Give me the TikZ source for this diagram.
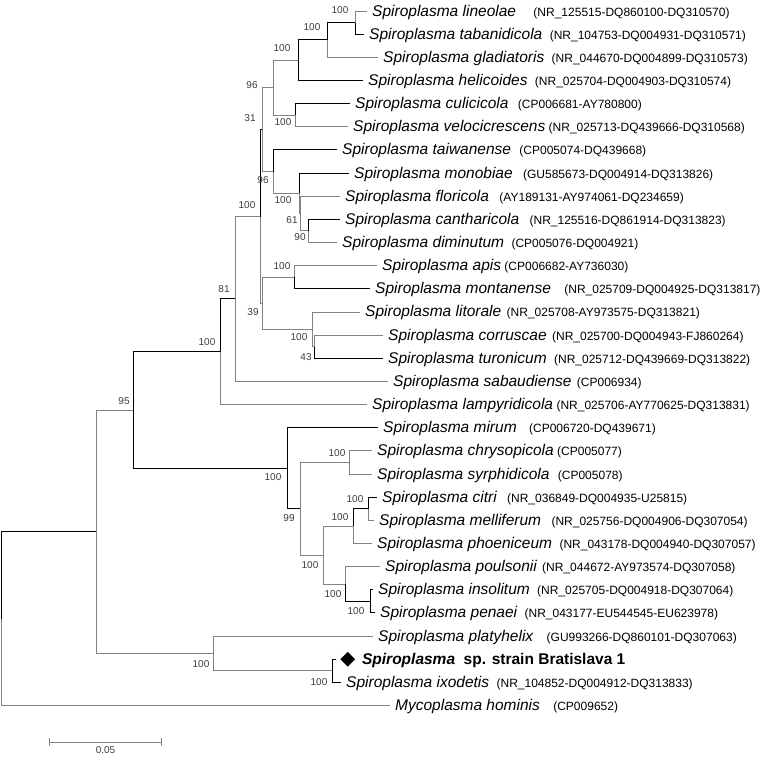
\documentclass[tikz,border=0pt]{standalone}
\usepackage{fontspec}
\setmainfont{Liberation Sans}
\usetikzlibrary{positioning,arrows.meta,shapes.geometric}
\definecolor{branchgray}{RGB}{130,130,130}
\definecolor{bootgray}{RGB}{60,60,60}
\newcommand{\spfont}{\fontsize{15.5}{18}\selectfont\itshape}
\newcommand{\accfont}{\fontsize{12}{14}\selectfont}
\newcommand{\bsfont}{\fontsize{10}{12}\selectfont}

\begin{document}
\begin{tikzpicture}[x=1pt,y=-1pt,
  br/.style={draw=branchgray,line width=0.9pt},
  brk/.style={draw=black,line width=0.9pt},
  sp/.style={font=\spfont,anchor=west,inner sep=0pt,text height=10pt,text depth=0pt},
  strain/.style={sp,font=\fontsize{15.5}{18}\selectfont\bfseries},
  acc/.style={font=\accfont,inner sep=0pt,anchor=base west},
  bs/.style={font=\bsfont,text=bootgray,inner sep=0pt},
  isolate/.style={diamond,fill=black,inner sep=0pt,minimum size=15pt}
]
\useasboundingbox (0,0) rectangle (762,756);

% internal nodes of the tree
\coordinate (root) at (1.2,618.6);
\coordinate (n96b) at (96,531.7);
\coordinate (n95) at (133,410);
\coordinate (nU) at (220,351.7);
\coordinate (n81) at (235,298.9);
\coordinate (ntop) at (260,216.5);
\coordinate (n31) at (262,129.6);
\coordinate (n96a) at (273,87.7);
\coordinate (nN3) at (298,60.2);
\coordinate (nN2) at (327,39.9);
\coordinate (nN1) at (355,22.6);
\coordinate (nN4) at (295,115.2);
\coordinate (nT) at (273,171.6);
\coordinate (nM) at (299,193.3);
\coordinate (nF) at (300,213.6);
\coordinate (nC) at (308,230.9);
\coordinate (n39) at (262,303.3);
\coordinate (nAM) at (294,277.2);
\coordinate (nA) at (312,329.3);
\coordinate (nB) at (314,346.7);
\coordinate (nS) at (287,468.2);
\coordinate (n99) at (300,508.7);
\coordinate (nCS) at (349,462.4);
\coordinate (nQ) at (323,555);
\coordinate (nR) at (353,526.1);
\coordinate (nCM) at (368,508.7);
\coordinate (nPIP) at (345,584);
\coordinate (nIP) at (370,601.3);
\coordinate (nL) at (213,653.4);
\coordinate (nBI) at (332,670.8);

% leaf ends
\coordinate (l1) at (367,11);
\coordinate (l2) at (364,34.15);
\coordinate (l3) at (378,57.3);
\coordinate (l4) at (363,80.45);
\coordinate (l5) at (350,103.6);
\coordinate (l6) at (348,126.75);
\coordinate (l7) at (337,149.9);
\coordinate (l8) at (349,173.05);
\coordinate (l9) at (340,196.2);
\coordinate (l10) at (340,219.35);
\coordinate (l11) at (337,242.5);
\coordinate (l12) at (377,265.65);
\coordinate (l13) at (370,288.8);
\coordinate (l14) at (360,311.95);
\coordinate (l15) at (383,335.1);
\coordinate (l16) at (383,358.25);
\coordinate (l17) at (388,381.4);
\coordinate (l18) at (367,404.55);
\coordinate (l19) at (378,427.7);
\coordinate (l20) at (372,450.85);
\coordinate (l21) at (372,474);
\coordinate (l22) at (377,497.15);
\coordinate (l23) at (374,520.3);
\coordinate (l24) at (372,543.45);
\coordinate (l25) at (380,566.6);
\coordinate (l26) at (373,589.75);
\coordinate (l27) at (375,612.9);
\coordinate (l28) at (373,636.05);
\coordinate (l29) at (336,659.2);
\coordinate (l30) at (341,682.35);
\coordinate (l31) at (390,705.5);

% branches
\draw[br] (nN1) |- (l1);  \draw[brk] (nN1) |- (l2);
\draw[brk] (nN2) |- (nN1); \draw[br] (nN2) |- (l3);
\draw[brk] (nN3) |- (nN2); \draw[brk] (nN3) |- (l4);
\draw[brk] (nN4) |- (l5); \draw[br] (nN4) |- (l6);
\draw[br] (n96a) |- (nN3); \draw[br] (n96a) |- (nN4);
\draw[brk] (nC) |- (l10); \draw[br] (nC) |- (l11);
\draw[br] (nF) |- (l9); \draw[br] (nF) |- (nC);
\draw[brk] (nM) |- (l8); \draw[br] (nM) |- (nF);
\draw[brk] (nT) |- (l7); \draw[br] (nT) |- (nM);
\draw[br] (n31) |- (n96a); \draw[br] (n31) |- (nT);
\draw[br] (nAM) |- (l12); \draw[brk] (nAM) |- (l13);
\draw[br] (nB) |- (l15); \draw[brk] (nB) |- (l16);
\draw[br] (nA) |- (l14); \draw[br] (nA) |- (nB);
\draw[br] (n39) |- (nAM); \draw[br] (n39) |- (nA);
\draw[brk] (ntop) |- (n31); \draw[br] (ntop) |- (n39);
\draw[br] (n81) |- (ntop); \draw[br] (n81) |- (l17);
\draw[brk] (nU) |- (n81); \draw[br] (nU) |- (l18);
\draw[br] (nCS) |- (l20); \draw[br] (nCS) |- (l21);
\draw[brk] (nCM) |- (l22); \draw[br] (nCM) |- (l23);
\draw[brk] (nR) |- (nCM); \draw[br] (nR) |- (l24);
\draw[brk] (nIP) |- (l26); \draw[brk] (nIP) |- (l27);
\draw[br] (nPIP) |- (l25); \draw[brk] (nPIP) |- (nIP);
\draw[br] (nQ) |- (nR); \draw[br] (nQ) |- (nPIP);
\draw[br] (n99) |- (nCS); \draw[br] (n99) |- (nQ);
\draw[brk] (nS) |- (l19); \draw[brk] (nS) |- (n99);
\draw[brk] (n95) |- (nU); \draw[brk] (n95) |- (nS);
\draw[brk] (nBI) |- (l29); \draw[brk] (nBI) |- (l30);
\draw[br] (nL) |- (l28); \draw[br] (nL) |- (nBI);
\draw[br] (n96b) |- (n95); \draw[br] (n96b) |- (nL);
\draw[brk,line width=1pt] (root) |- (n96b); \draw[br] (root) |- (l31);

% taxa
\node[sp,right=5pt of l1] (s1) {Spiroplasma lineolae};
\node[right=17pt of s1.base east,acc] (a1) {(NR\_125515-DQ860100-DQ310570)};
\node[sp,right=5pt of l2] (s2) {Spiroplasma tabanidicola};
\node[right=7pt of s2.base east,acc] (a2) {(NR\_104753-DQ004931-DQ310571)};
\node[sp,right=5pt of l3] (s3) {Spiroplasma gladiatoris};
\node[right=7pt of s3.base east,acc] (a3) {(NR\_044670-DQ004899-DQ310573)};
\node[sp,right=5pt of l4] (s4) {Spiroplasma helicoides};
\node[right=7pt of s4.base east,acc] (a4) {(NR\_025704-DQ004903-DQ310574)};
\node[sp,right=5pt of l5] (s5) {Spiroplasma culicicola};
\node[right=9pt of s5.base east,acc] (a5) {(CP006681-AY780800)};
\node[sp,right=5pt of l6] (s6) {Spiroplasma velocicrescens};
\node[right=3pt of s6.base east,acc] (a6) {(NR\_025713-DQ439666-DQ310568)};
\node[sp,right=5pt of l7] (s7) {Spiroplasma taiwanense};
\node[right=8pt of s7.base east,acc] (a7) {(CP005074-DQ439668)};
\node[sp,right=5pt of l8] (s8) {Spiroplasma monobiae};
\node[right=10pt of s8.base east,acc] (a8) {(GU585673-DQ004914-DQ313826)};
\node[sp,right=5pt of l9] (s9) {Spiroplasma floricola};
\node[right=10pt of s9.base east,acc] (a9) {(AY189131-AY974061-DQ234659)};
\node[sp,right=5pt of l10] (s10) {Spiroplasma cantharicola};
\node[right=10pt of s10.base east,acc] (a10) {(NR\_125516-DQ861914-DQ313823)};
\node[sp,right=5pt of l11] (s11) {Spiroplasma diminutum};
\node[right=7pt of s11.base east,acc] (a11) {(CP005076-DQ004921)};
\node[sp,right=5pt of l12] (s12) {Spiroplasma apis};
\node[right=3pt of s12.base east,acc] (a12) {(CP006682-AY736030)};
\node[sp,right=5pt of l13] (s13) {Spiroplasma montanense};
\node[right=13pt of s13.base east,acc] (a13) {(NR\_025709-DQ004925-DQ313817)};
\node[sp,right=5pt of l14] (s14) {Spiroplasma litorale};
\node[right=5pt of s14.base east,acc] (a14) {(NR\_025708-AY973575-DQ313821)};
\node[sp,right=5pt of l15] (s15) {Spiroplasma corruscae};
\node[right=5pt of s15.base east,acc] (a15) {(NR\_025700-DQ004943-FJ860264)};
\node[sp,right=5pt of l16] (s16) {Spiroplasma turonicum};
\node[right=7pt of s16.base east,acc] (a16) {(NR\_025712-DQ439669-DQ313822)};
\node[sp,right=5pt of l17] (s17) {Spiroplasma sabaudiense};
\node[right=5pt of s17.base east,acc] (a17) {(CP006934)};
\node[sp,right=5pt of l18] (s18) {Spiroplasma lampyridicola};
\node[right=3pt of s18.base east,acc] (a18) {(NR\_025706-AY770625-DQ313831)};
\node[sp,right=5pt of l19] (s19) {Spiroplasma mirum};
\node[right=12pt of s19.base east,acc] (a19) {(CP006720-DQ439671)};
\node[sp,right=5pt of l20] (s20) {Spiroplasma chrysopicola};
\node[right=3pt of s20.base east,acc] (a20) {(CP005077)};
\node[sp,right=5pt of l21] (s21) {Spiroplasma syrphidicola};
\node[right=8pt of s21.base east,acc] (a21) {(CP005078)};
\node[sp,right=5pt of l22] (s22) {Spiroplasma citri};
\node[right=10pt of s22.base east,acc] (a22) {(NR\_036849-DQ004935-U25815)};
\node[sp,right=5pt of l23] (s23) {Spiroplasma melliferum};
\node[right=10pt of s23.base east,acc] (a23) {(NR\_025756-DQ004906-DQ307054)};
\node[sp,right=5pt of l24] (s24) {Spiroplasma phoeniceum};
\node[right=7pt of s24.base east,acc] (a24) {(NR\_043178-DQ004940-DQ307057)};
\node[sp,right=5pt of l25] (s25) {Spiroplasma poulsonii};
\node[right=5pt of s25.base east,acc] (a25) {(NR\_044672-AY973574-DQ307058)};
\node[sp,right=5pt of l26] (s26) {Spiroplasma insolitum};
\node[right=7pt of s26.base east,acc] (a26) {(NR\_025705-DQ004918-DQ307064)};
\node[sp,right=5pt of l27] (s27) {Spiroplasma penaei};
\node[right=7pt of s27.base east,acc] (a27) {(NR\_043177-EU544545-EU623978)};
\node[sp,right=5pt of l28] (s28) {Spiroplasma platyhelix};
\node[right=13pt of s28.base east,acc] (a28) {(GU993266-DQ860101-DQ307063)};
\node[isolate,right=4pt of l29] (dm) {};
\node[strain,right=6.5pt of dm] (s29) {\textit{Spiroplasma}\hspace{0.55em}sp. strain Bratislava 1};
\node[sp,right=5pt of l30] (s30) {Spiroplasma ixodetis};
\node[right=7pt of s30.base east,acc] (a30) {(NR\_104852-DQ004912-DQ313833)};
\node[sp,right=5pt of l31] (s31) {Mycoplasma hominis};
\node[right=13pt of s31.base east,acc] (a31) {(CP009652)};

% bootstrap values
\node[bs] (b1) at (340,10) {100};
\node[bs] (b2) at (312,27) {100};
\node[bs] (b3) at (282,48) {100};
\node[bs] (b4) at (252,85) {96};
\node[bs] (b5) at (283,122) {100};
\node[bs] (b6) at (250,118) {31};
\node[bs] (b7) at (263,180) {96};
\node[bs] (b8) at (283,200) {100};
\node[bs] (b9) at (292,220) {61};
\node[bs] (b10) at (300,237) {90};
\node[bs] (b11) at (247,205) {100};
\node[bs] (b12) at (282,266) {100};
\node[bs] (b13) at (253,312) {39};
\node[bs] (b14) at (299,337) {100};
\node[bs] (b15) at (306,357) {43};
\node[bs] (b16) at (224,289) {81};
\node[bs] (b17) at (207,342) {100};
\node[bs] (b18) at (124,401) {95};
\node[bs] (b19) at (273,477) {100};
\node[bs] (b20) at (289,518) {99};
\node[bs] (b21) at (337,453) {100};
\node[bs] (b22) at (355,499) {100};
\node[bs] (b23) at (340,517) {100};
\node[bs] (b24) at (310,565) {100};
\node[bs] (b25) at (333,594) {100};
\node[bs] (b26) at (356,611) {100};
\node[bs] (b27) at (201,664) {100};
\node[bs] (b28) at (319,682) {100};

% scale bar
\coordinate (sb1) at (49,742);
\coordinate (sb2) at (162,742);
\draw[br,{Bar[width=8pt]}-{Bar[width=8pt]}] (sb1) -- (sb2);
\node[bs] (sbl) at (105.5,750) {0.05};
\end{tikzpicture}
\end{document}
